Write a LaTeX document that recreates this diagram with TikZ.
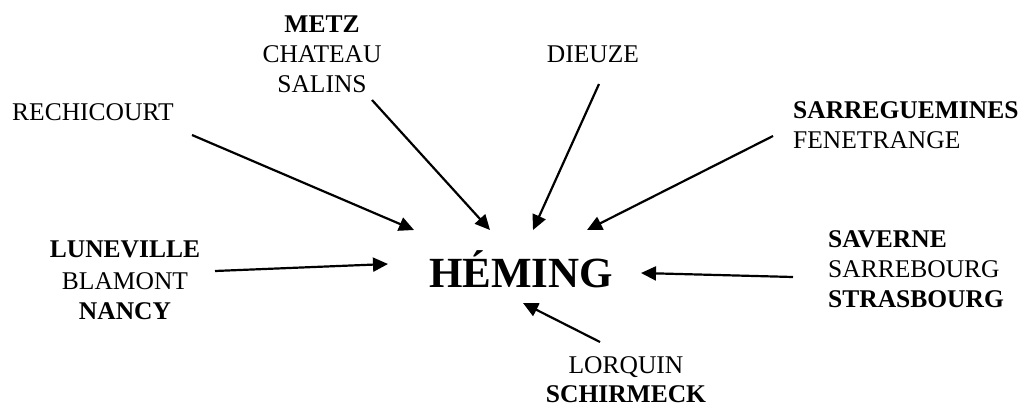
\documentclass[tikz,border=0pt]{standalone}
\usepackage{fontspec}
\setmainfont{Liberation Serif}
\usetikzlibrary{arrows.meta}
\begin{document}
\begin{tikzpicture}[x=1pt,y=1pt,
  lbl/.style={inner sep=0pt,font=\fontsize{25.5}{30}\selectfont},
  blbl/.style={lbl,font=\fontsize{25.5}{30}\selectfont\bfseries},
  arr/.style={line width=2.2pt,-{Triangle[length=15pt,width=14pt]}}]
\useasboundingbox (0,0) rectangle (1031,408);
% centre
\node[inner sep=0pt,font=\fontsize{43}{50}\selectfont\bfseries,anchor=base] (heming) at (521,121) {HÉMING};
% METZ group
\node[blbl,anchor=base] (metz) at (322,375.5) {METZ};
\node[lbl,anchor=base] (chateau) at (322,345.5) {CHATEAU};
\node[lbl,anchor=base] (salins) at (322,315.5) {SALINS};
% DIEUZE
\node[lbl,anchor=base] (dieuze) at (593,345.5) {DIEUZE};
% RECHICOURT
\node[lbl,anchor=base west] (rechi) at (12,287.5) {RECHICOURT};
% SARREGUEMINES
\node[blbl,anchor=base west] (sarreg) at (793,289.5) {SARREGUEMINES};
\node[lbl,anchor=base west] (fenet) at (793,259.5) {FENETRANGE};
% LUNEVILLE group
\node[blbl,anchor=base] (lune) at (125,150.5) {LUNEVILLE};
\node[lbl,anchor=base] (blamont) at (125,118.5) {BLAMONT};
\node[blbl,anchor=base] (nancy) at (125,88.5) {NANCY};
% SAVERNE group
\node[blbl,anchor=base west] (saverne) at (828,161) {SAVERNE};
\node[lbl,anchor=base west] (sarreb) at (828,131) {SARREBOURG};
\node[blbl,anchor=base west] (stras) at (828,101) {STRASBOURG};
% LORQUIN group
\node[lbl,anchor=base] (lorquin) at (626,35) {LORQUIN};
\node[blbl,anchor=base] (schir) at (626,6) {SCHIRMECK};
% arrow ends
\coordinate (t1) at (192,273); \coordinate (h1) at (414,178);
\coordinate (t2) at (372,308); \coordinate (h2) at (490,178);
\coordinate (t3) at (599,324); \coordinate (h3) at (533,178);
\coordinate (t4) at (773,272); \coordinate (h4) at (587,178);
\coordinate (t5) at (215,137); \coordinate (h5) at (388,144);
\coordinate (t6) at (793,131); \coordinate (h6) at (641,135);
\coordinate (t7) at (600,66);  \coordinate (h7) at (523,105);
\draw[arr] (t1) -- (h1);
\draw[arr] (t2) -- (h2);
\draw[arr] (t3) -- (h3);
\draw[arr] (t4) -- (h4);
\draw[arr] (t5) -- (h5);
\draw[arr] (t6) -- (h6);
\draw[arr] (t7) -- (h7);
\end{tikzpicture}
\end{document}
